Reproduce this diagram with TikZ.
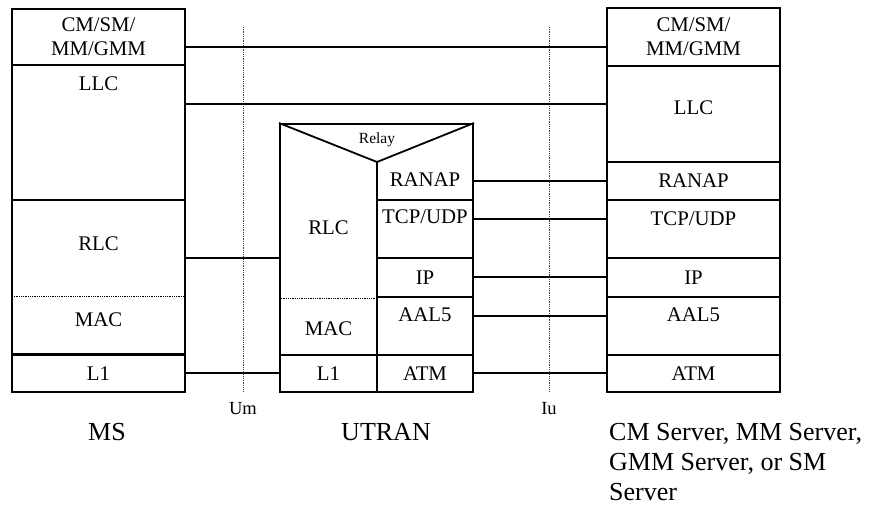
\documentclass[tikz,border=0pt]{standalone}
\usepackage{fontspec}
\setmainfont{Liberation Serif}

\newcommand{\boxfont}{\fontsize{20.8}{24}\selectfont}
\newcommand{\ifcfont}{\fontsize{18.5}{20}\selectfont}
\newcommand{\relayfont}{\fontsize{15.5}{18}\selectfont}
\newcommand{\entfont}{\fontsize{26}{30}\selectfont}

\begin{document}
\begin{tikzpicture}[x=1pt, y=-1pt, font=\boxfont,
  stackbox/.style={draw, line width=2pt, inner sep=0pt, align=center, minimum width=173pt},
  link/.style={line width=1.3pt},
  iface/.style={densely dotted, line width=0.8pt, black!75},
  sublayer/.style={densely dotted, line width=0.8pt}]

\useasboundingbox (0,0) rectangle (875,507);

% Interfaces
\draw[iface] (243,27) -- (243,392);
\node[font=\ifcfont] (um) at (243,409) {Um};
\draw[iface] (549,27) -- (549,392);
\node[font=\ifcfont] (iu) at (549,409) {Iu};

% MS stack
\node[stackbox, minimum height=56pt] (msCm) at (98.5,37) {CM/SM/\\MM/GMM};
\node[stackbox, minimum height=135pt] (msLlc) at (98.5,132.5) {};
\node (msLlcText) at (98.5,84) {LLC};
\node[stackbox, minimum height=154pt] (msRlc) at (98.5,277) {};
\node (msRlcText) at (98.5,244) {RLC};
\node (msMac) at (98.5,320) {MAC};
\draw[sublayer] (12,296) -- (185,296);
\node[stackbox, minimum height=37pt] (msL1) at (98.5,373.5) {L1};

% UTRAN stack
\node[draw, line width=2pt, inner sep=0pt, minimum width=193pt, minimum height=268pt] (utran) at (376.5,258) {};
\coordinate (apex) at (377,162);
\draw[line width=1.8pt] (utran.north west) -- (apex) -- (utran.north east);
\node[font=\relayfont] (relay) at (377,140) {Relay};
\node (utRlc) at (328.5,227.5) {RLC};
\node (utMac) at (328.5,328.5) {MAC};
\node[stackbox, minimum width=97pt, minimum height=37pt] (utL1) at (328.5,373.5) {L1};
\node (utRanap) at (425,180) {RANAP};
\node[stackbox, minimum width=96pt, minimum height=58pt] (utTcp) at (425,229) {};
\node (utTcpText) at (425,216.5) {TCP/UDP};
\node[stackbox, minimum width=96pt, minimum height=39pt] (utIp) at (425,277.5) {IP};
\node[stackbox, minimum width=96pt, minimum height=58pt] (utAal) at (425,326) {};
\node (utAalText) at (425,314.5) {AAL5};
\node[stackbox, minimum width=96pt, minimum height=37pt] (utAtm) at (425,373.5) {ATM};
\draw[line width=1.5pt] (apex) -- (apex |- utTcp.north);
\draw[sublayer] (utran.west |- utIp.south) -- (utIp.south west);

% CN stack
\node[stackbox, minimum height=58pt] (cnCm) at (693.5,37) {CM/SM/\\MM/GMM};
\node[stackbox, minimum height=96pt] (cnLlc) at (693.5,114) {};
\node (cnLlcText) at (693.5,108) {LLC};
\node[stackbox, minimum height=38pt] (cnRanap) at (693.5,181) {RANAP};
\node[stackbox, minimum height=58pt] (cnTcp) at (693.5,229) {};
\node (cnTcpText) at (693.5,218.5) {TCP/UDP};
\node[stackbox, minimum height=39pt] (cnIp) at (693.5,277.5) {IP};
\node[stackbox, minimum height=58pt] (cnAal) at (693.5,326) {};
\node (cnAalText) at (693.5,315) {AAL5};
\node[stackbox, minimum height=37pt] (cnAtm) at (693.5,373.5) {ATM};

% Peer links
\draw[link] ([yshift=-10pt]msCm.east) -- ([yshift=-10pt]cnCm.west);
\draw[link] ([yshift=28.5pt]msLlc.east) -- ([yshift=10pt]cnLlc.west);
\draw[link] (msRlc.east |- utran.west) -- (utran.west);
\draw[link] ([yshift=0.5pt]msL1.east) -- ([yshift=0.5pt]utL1.west);
\draw[link] (utran.east |- cnRanap) -- (cnRanap);
\draw[link] ([yshift=10pt]utTcp.east) -- ([yshift=10pt]cnTcp.west);
\draw[link] ([yshift=0.5pt]utIp.east) -- ([yshift=0.5pt]cnIp.west);
\draw[link] ([yshift=10pt]utAal.east) -- ([yshift=10pt]cnAal.west);
\draw[link] ([yshift=0.5pt]utAtm.east) -- ([yshift=0.5pt]cnAtm.west);

% Entities
\node[font=\entfont, anchor=base] (ms) at (107,440) {MS};
\node[font=\entfont, anchor=base] (utranName) at (386,440) {UTRAN};
\node[font=\entfont, anchor=north west, align=left, inner sep=0pt] (cn) at (609,423) {CM Server, MM Server,\\GMM Server, or SM\\Server};

\end{tikzpicture}
\end{document}
